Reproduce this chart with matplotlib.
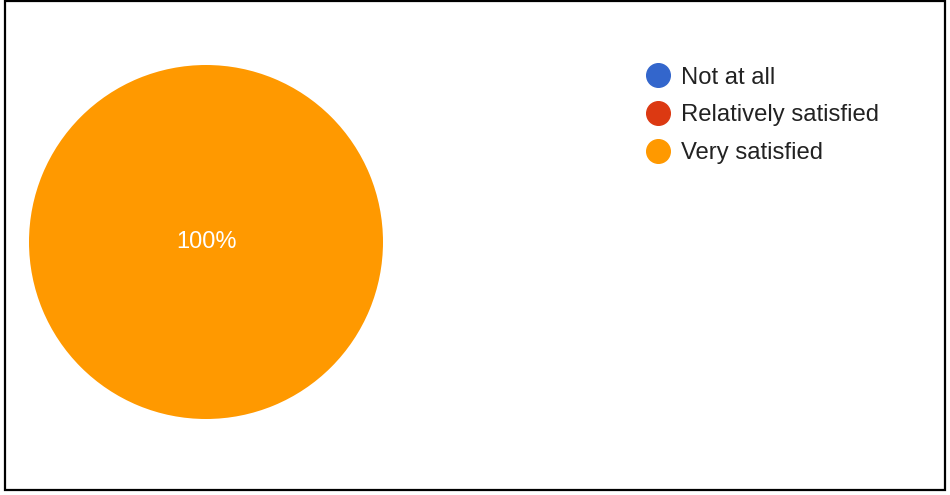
import matplotlib.pyplot as plt
from matplotlib.patches import Rectangle
from matplotlib.lines import Line2D

plt.rcParams["font.family"] = ["Liberation Sans", "DejaVu Sans"]

labels = ["Not at all", "Relatively satisfied", "Very satisfied"]
values = [0, 0, 100]
colors = ["#3366cc", "#dc3912", "#ff9900"]

W, H = 950, 495
fig = plt.figure(figsize=(W / 100, H / 100), dpi=100)

# pie area: centre ~(206, 242), radius ~177 px
ax = fig.add_axes([29 / W, (H - 419) / H, 354 / W, 354 / H])
ax.pie(values, colors=colors, startangle=90, counterclock=False,
       wedgeprops=dict(linewidth=0))
ax.set_aspect("equal")
ax.set_xlim(-1, 1)
ax.set_ylim(-1, 1)
ax.axis("off")

total = sum(values)
for v in values:
    if v / total >= 0.999:
        ax.text(0, -0.035, f"{v / total * 100:.0f}%", color="white",
                fontsize=17, ha="center", va="baseline")

# legend
ys = [75, 113, 151]
for lab, col, y in zip(labels, colors, ys):
    fig.add_artist(Line2D([658 / W], [1 - y / H], marker="o", markersize=17,
                          color=col, linestyle="none",
                          transform=fig.transFigure))
    fig.text(681 / W, 1 - (y + 8.5) / H, lab, fontsize=17.2, color="#222222",
             ha="left", va="baseline")

# frame
fig.add_artist(Rectangle((4.5 / W, (H - 490) / H), 940 / W, 489 / H,
                         fill=False, edgecolor="black", linewidth=1.6,
                         transform=fig.transFigure))

fig.savefig("out.png", dpi=100, facecolor="white")
